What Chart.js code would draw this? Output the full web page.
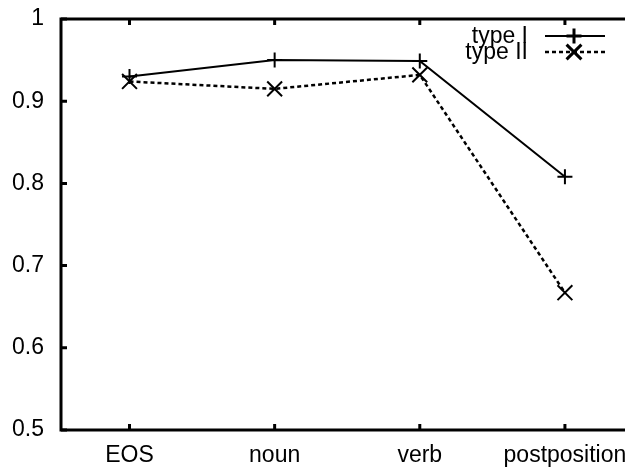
<!DOCTYPE html>
<html>
<head>
<meta charset="utf-8">
<script src="https://cdn.jsdelivr.net/npm/chart.js@4/dist/chart.umd.min.js"></script>
<style>
html,body{margin:0;padding:0;background:#fff;overflow:hidden;}
#wrap{width:625px;height:468px;overflow:hidden;position:relative;}
#c{position:absolute;left:0;top:0;width:650px;height:468px;}
</style>
</head>
<body>
<div id="wrap"><canvas id="c" width="650" height="468"></canvas></div>
<script>
const categories = ["EOS", "noun", "verb", "postposition"];
const typeI = [0.930, 0.950, 0.949, 0.808];
const typeII = [0.924, 0.915, 0.932, 0.667];
const yTicks = [0.5, 0.6, 0.7, 0.8, 0.9, 1];
const seriesNames = ["type I", "type II"];

const FONT = "'Liberation Sans', Arial, Helvetica, sans-serif";
const FSIZE = 23;

const toXY = arr => arr.map((v, i) => ({x: i + 1, y: v}));

const framePlugin = {
  id: 'frame',
  afterDatasetsDraw(chart) {
    const {ctx, chartArea: a, scales} = chart;
    ctx.save();
    ctx.strokeStyle = '#000';
    ctx.lineWidth = 3;
    ctx.beginPath();
    ctx.rect(a.left, a.top, a.right - a.left, a.bottom - a.top);
    ctx.stroke();
    ctx.lineWidth = 3;
    ctx.beginPath();
    yTicks.forEach(v => {
      const y = scales.y.getPixelForValue(v);
      ctx.moveTo(a.left, y); ctx.lineTo(a.left + 6, y);
      ctx.moveTo(a.right, y); ctx.lineTo(a.right - 6, y);
    });
    categories.forEach((c, i) => {
      const x = scales.x.getPixelForValue(i + 1);
      ctx.moveTo(x, a.bottom); ctx.lineTo(x, a.bottom - 6);
      ctx.moveTo(x, a.top); ctx.lineTo(x, a.top + 6);
    });
    ctx.stroke();
    // legend (gnuplot style)
    ctx.font = FSIZE + 'px ' + FONT;
    ctx.fillStyle = '#000';
    ctx.textAlign = 'right';
    ctx.textBaseline = 'middle';
    const rows = [36, 52];
    chart.data.datasets.forEach((ds, i) => {
      const y = rows[i];
      ctx.fillText(seriesNames[i], 528, y + 1);
      ctx.save();
      ctx.lineWidth = ds.borderWidth;
      ctx.setLineDash(ds.borderDash || []);
      ctx.beginPath();
      ctx.moveTo(545, y); ctx.lineTo(605, y);
      ctx.stroke();
      ctx.restore();
      Chart.helpers.drawPoint(ctx, {pointStyle: ds.pointStyle, radius: ds.pointRadius, borderWidth: ds.pointBorderWidth}, 574, y);
    });
    ctx.restore();
  }
};

new Chart(document.getElementById('c'), {
  type: 'line',
  data: {
    datasets: [
      {label: seriesNames[0], data: toXY(typeI), borderColor: '#000', backgroundColor: '#000',
       borderWidth: 2, pointStyle: 'cross', pointRadius: 7.5, pointBorderWidth: 2, pointBorderColor: '#000', tension: 0, clip: false},
      {label: seriesNames[1], data: toXY(typeII), borderColor: '#000', backgroundColor: '#000',
       borderWidth: 2.5, borderDash: [4, 3], pointStyle: 'crossRot', pointRadius: 10.5, pointBorderWidth: 2, pointBorderColor: '#000', tension: 0, clip: false}
    ]
  },
  options: {
    responsive: false,
    maintainAspectRatio: false,
    animation: false,
    devicePixelRatio: 1,
    layout: {padding: {top: 19, right: 6, left: 0, bottom: 0}},
    plugins: {legend: {display: false}, tooltip: {enabled: false}},
    scales: {
      x: {
        type: 'linear', min: 0.528, max: 4.5,
        afterBuildTicks: s => { s.ticks = categories.map((c, i) => ({value: i + 1})); },
        afterFit: s => { s.height = 38; s.paddingLeft = 0; s.paddingRight = 0; },
        grid: {display: false, drawTicks: false},
        border: {display: false},
        ticks: {color: '#000', font: {family: FONT, size: FSIZE}, padding: 12, maxRotation: 0,
                callback: v => categories[v - 1]}
      },
      y: {
        min: 0.5, max: 1,
        afterBuildTicks: s => { s.ticks = yTicks.map(v => ({value: v})); },
        afterFit: s => { s.width = 61; s.paddingTop = 0; s.paddingBottom = 0; },
        grid: {display: false, drawTicks: false},
        border: {display: false},
        ticks: {color: '#000', font: {family: FONT, size: FSIZE}, padding: 17,
                callback: v => String(Math.round(v * 10) / 10)}
      }
    }
  },
  plugins: [framePlugin]
});
</script>
</body>
</html>
